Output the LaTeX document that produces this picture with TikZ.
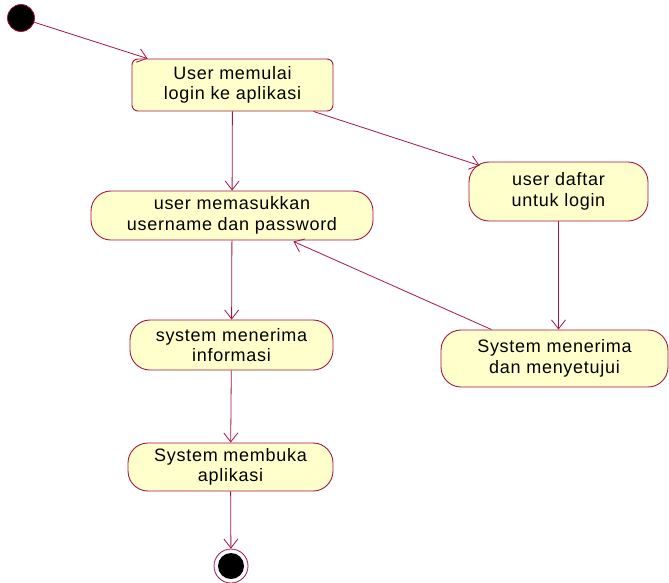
\documentclass[tikz,border=0pt]{standalone}
\usepackage{fontspec}
\setmainfont{Liberation Sans}[LetterSpace=4]
\usetikzlibrary{arrows.meta,calc}
\definecolor{edgec}{RGB}{165,20,70}
\definecolor{fillc}{RGB}{255,255,204}
\begin{document}
\begin{tikzpicture}[x=1pt,y=-1pt,
  act/.style={draw=edgec, fill=fillc, line width=0.9pt, align=center, inner sep=0pt,
    font=\fontsize{18}{20.5}\selectfont},
  statebox/.style={act, rounded corners=6pt},
  actionbox/.style={act, rounded corners=20pt},
  flow/.style={draw=edgec, line width=0.8pt, -{Straight Barb[length=9pt,width=14pt]}}]
\useasboundingbox (0,0) rectangle (669,582);
\node[circle, fill=black, draw=edgec, line width=0.8pt, minimum size=27pt, inner sep=0pt] (start) at (21,18) {};
\node[statebox, minimum width=201pt, minimum height=52pt] (b1) at (232.5,85) {User memulai\\ login ke aplikasi};
\node[actionbox, minimum width=282pt, minimum height=49pt] (b2) at (232,215.5) {user memasukkan\\ username dan password};
\node[actionbox, minimum width=179pt, minimum height=59pt] (b3) at (558.5,191.5) {user daftar\\ untuk login};
\node[actionbox, minimum width=227pt, minimum height=57pt] (b4) at (554.5,358.5) {System menerima\\ dan menyetujui};
\node[actionbox, minimum width=203pt, minimum height=50pt] (b5) at (231.5,345) {system menerima\\ informasi};
\node[actionbox, minimum width=205pt, minimum height=48pt] (b6) at (230.5,467) {System membuka\\ aplikasi};
\node[circle, fill=white, draw=edgec, line width=0.8pt, minimum size=34pt, inner sep=0pt] (end) at (231,566) {};
\node[circle, fill=black, minimum size=26pt, inner sep=0pt] (endin) at (end) {};
\draw[flow] (start) -- ($(b1.north west)+(16,0)$);
\draw[flow] (b1) -- (b2);
\draw[flow] ($(b1.south east)+(-20,0)$) -- ($(b3.north west)+(11,4)$);
\draw[flow] (b3.south) -- (b3.south |- b4.north);
\draw[flow] ($(b4.north west)+(51,0)$) -- ($(b2.south east)+(-80,1)$);
\draw[flow] (b2) -- (b5);
\draw[flow] (b5) -- (b6);
\draw[flow] (b6) -- (end);
\end{tikzpicture}
\end{document}
